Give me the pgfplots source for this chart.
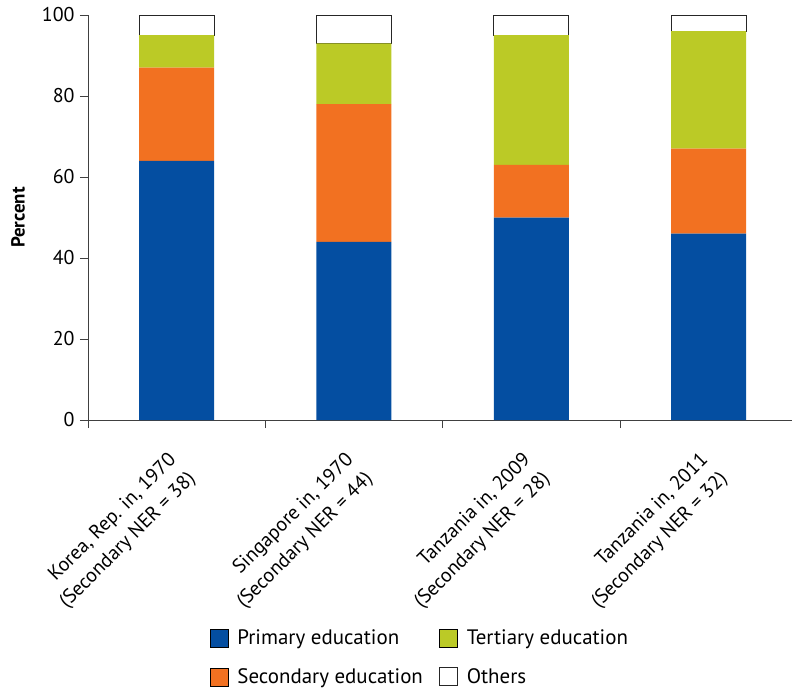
\documentclass[border=0pt]{standalone}
\usepackage{pgfplots}
\pgfplotsset{compat=1.18}
\usepackage{fontspec}
\setmainfont{PT Sans}
\definecolor{cprim}{RGB}{4,78,161}
\definecolor{csec}{RGB}{242,113,33}
\definecolor{cter}{RGB}{187,202,38}
\begin{document}
\begin{tikzpicture}
\path[use as bounding box] (-88bp,-272bp) rectangle (704bp,420bp);
\begin{axis}[
  at={(0,0)}, anchor=south west,
  scale only axis, width=704bp, height=405bp,
  xmin=0, xmax=3.97, ymin=0, ymax=100,
  axis x line=bottom, axis y line=left,
  axis line style={-, line width=0.9bp, color=black!75},
  ybar stacked, bar width=75bp,
  xtick={0,1,2,3}, xticklabels={},
  extra x ticks={0.5,1.5,2.5,3.5},
  extra x tick labels={{Korea, Rep. in, 1970\\(Secondary NER = 38)},{Singapore in, 1970\\(Secondary NER = 44)},{Tanzania in, 2009\\(Secondary NER = 28)},{Tanzania in, 2011\\(Secondary NER = 32)}},
  extra x tick style={major tick length=0pt, tick label style={xshift=-10bp, yshift=-26bp, rotate=45, anchor=north east, align=right, font=\fontsize{20}{27}\selectfont}},
  ytick={0,20,40,60,80,100},
  tick align=outside, major tick length=8bp,
  tick style={black!75, line width=0.9bp},
  /pgf/number format/assume math mode=true,
  ticklabel style={font=\fontsize{20}{24}\selectfont},
  yticklabel style={xshift=-2bp},
  ylabel={Percent},
  ylabel style={at={(axis description cs:-0.0994,0.5)}, anchor=center, font=\bfseries\fontsize{19}{22}\selectfont},
  legend columns=2, transpose legend,
  legend style={draw=none, fill=none, inner sep=0pt, outer sep=0pt,
    anchor=north west, at={(axis description cs:0.1733,-0.516)},
    column sep=9bp, row sep=20bp,
    font=\fontsize{21}{25}\selectfont,
    nodes={inner sep=0pt, anchor=west},
    /tikz/every even column/.append style={column sep=16bp}},
  legend image code/.code={\draw[#1] (0bp,-9bp) rectangle (18bp,9bp);},
]
\addplot[fill=cprim, draw=none] coordinates {(0.5,64) (1.5,44) (2.5,50) (3.5,46)};
\addlegendentry{Primary education}
\addplot[fill=csec, draw=none] coordinates {(0.5,23) (1.5,34) (2.5,13) (3.5,21)};
\addlegendentry{Secondary education}
\addplot[fill=cter, draw=none] coordinates {(0.5,8) (1.5,15) (2.5,32) (3.5,29)};
\addlegendentry{Tertiary education}
\addplot[fill=white, draw=black!85, line width=0.9bp] coordinates {(0.5,5) (1.5,7) (2.5,5) (3.5,4)};
\addlegendentry{Others}
\end{axis}
\end{tikzpicture}
\end{document}
